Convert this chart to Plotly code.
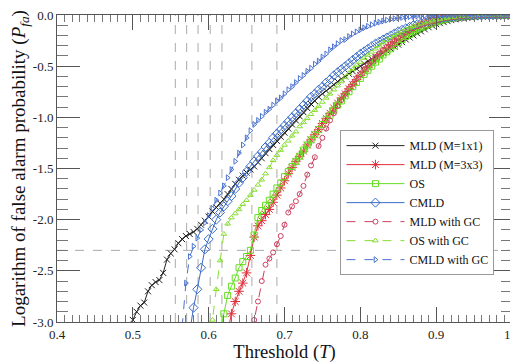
import plotly.graph_objects as go

# ---------------- data ----------------
STEP = 0.005  # threshold spacing of the sampled points

mld_1x1_start = 0.500
mld_1x1 = [-2.98, -2.90, -2.84, -2.81, -2.70, -2.64, -2.61, -2.59, -2.52, -2.39,
           -2.33, -2.29, -2.23, -2.19, -2.16, -2.14, -2.12, -2.09, -2.05, -2.01,
           -1.97, -1.92, -1.88, -1.84, -1.80, -1.75, -1.70, -1.65, -1.61, -1.57,
           -1.54, -1.51, -1.48, -1.44, -1.40, -1.35, -1.31, -1.27, -1.23, -1.19,
           -1.15, -1.11, -1.07, -1.03, -0.99, -0.95, -0.91, -0.87, -0.84, -0.80,
           -0.77, -0.74, -0.71, -0.68, -0.65, -0.625, -0.60, -0.575, -0.55, -0.525,
           -0.50, -0.475, -0.45, -0.43, -0.41, -0.39, -0.37, -0.35, -0.33, -0.31,
           -0.29, -0.265, -0.24, -0.22, -0.20, -0.18, -0.16, -0.14, -0.12, -0.105,
           -0.09, -0.08, -0.07, -0.06, -0.05, -0.042, -0.035, -0.03, -0.025, -0.02,
           -0.015, -0.012, -0.01, -0.008, -0.006, -0.004, -0.003, -0.002, -0.001, 0.0,
           0.0]

mld_3x3_start = 0.625
mld_3x3 = [-3.10, -2.92, -2.80, -2.70, -2.62, -2.52, -2.35, -2.17, -2.06, -2.01,
           -1.95, -1.90, -1.83, -1.76, -1.69, -1.62, -1.55, -1.49, -1.43, -1.38,
           -1.33, -1.27, -1.22, -1.17, -1.12, -1.06, -1.01, -0.96, -0.91, -0.86,
           -0.81, -0.77, -0.72, -0.68, -0.63, -0.59, -0.55, -0.51, -0.47, -0.43,
           -0.40, -0.36, -0.33, -0.30, -0.27, -0.24, -0.21, -0.185, -0.16, -0.14,
           -0.12, -0.10, -0.085, -0.072, -0.06, -0.05, -0.041, -0.034, -0.028, -0.022,
           -0.018, -0.014, -0.011, -0.008, -0.006, -0.005, -0.004, -0.003, -0.002, -0.001,
           -0.001, 0.0, 0.0, 0.0, 0.0, 0.0]

os_start = 0.615
os_vals = [-3.10, -2.92, -2.74, -2.65, -2.57, -2.47, -2.41, -2.36, -2.30, -2.15,
           -1.98, -1.91, -1.86, -1.81, -1.75, -1.69, -1.64, -1.58, -1.53, -1.48,
           -1.43, -1.38, -1.32, -1.27, -1.22, -1.17, -1.12, -1.07, -1.02, -0.98,
           -0.93, -0.88, -0.84, -0.79, -0.75, -0.70, -0.66, -0.62, -0.58, -0.54,
           -0.50, -0.46, -0.43, -0.39, -0.36, -0.33, -0.30, -0.27, -0.24, -0.21,
           -0.19, -0.165, -0.145, -0.125, -0.11, -0.095, -0.08, -0.067, -0.056, -0.046,
           -0.038, -0.031, -0.025, -0.02, -0.016, -0.012, -0.009, -0.007, -0.005, -0.004,
           -0.003, -0.002, -0.001, -0.001, 0.0, 0.0, 0.0, 0.0]

cmld_start = 0.575
cmld = [-3.10, -2.86, -2.68, -2.47, -2.29, -2.19, -2.09, -2.00, -1.93, -1.87,
        -1.82, -1.77, -1.70, -1.64, -1.59, -1.53, -1.48, -1.43, -1.38, -1.34,
        -1.29, -1.25, -1.20, -1.16, -1.12, -1.08, -1.04, -1.00, -0.96, -0.92,
        -0.88, -0.84, -0.80, -0.77, -0.73, -0.70, -0.66, -0.63, -0.59, -0.56,
        -0.53, -0.50, -0.47, -0.44, -0.41, -0.38, -0.355, -0.33, -0.305, -0.28,
        -0.26, -0.24, -0.22, -0.20, -0.18, -0.16, -0.145, -0.13, -0.115, -0.10,
        -0.09, -0.08, -0.07, -0.06, -0.05, -0.042, -0.035, -0.029, -0.024, -0.02,
        -0.016, -0.013, -0.010, -0.008, -0.006, -0.005, -0.004, -0.003, -0.002, -0.0015,
        -0.001, -0.001, 0.0, 0.0, 0.0, 0.0]

mld_gc_start = 0.655
mld_gc = [-3.10, -2.98, -2.80, -2.60, -2.44, -2.38, -2.32, -2.24, -2.16, -2.05,
          -1.93, -1.87, -1.82, -1.75, -1.67, -1.56, -1.47, -1.39, -1.28, -1.20,
          -1.11, -1.03, -0.96, -0.89, -0.83, -0.77, -0.72, -0.67, -0.62, -0.58,
          -0.53, -0.49, -0.45, -0.41, -0.375, -0.34, -0.31, -0.28, -0.25, -0.22,
          -0.195, -0.17, -0.15, -0.13, -0.11, -0.095, -0.08, -0.068, -0.057, -0.047,
          -0.039, -0.032, -0.026, -0.021, -0.017, -0.013, -0.010, -0.008, -0.006, -0.004,
          -0.003, -0.002, -0.0015, -0.001, -0.001, 0.0, 0.0, 0.0, 0.0, 0.0]

os_gc_start = 0.600
os_gc = [-3.10, -2.98, -2.68, -2.40, -2.14, -2.04, -1.98, -1.94, -1.90, -1.85,
         -1.81, -1.76, -1.71, -1.66, -1.61, -1.55, -1.49, -1.42, -1.37, -1.32,
         -1.27, -1.23, -1.18, -1.14, -1.09, -1.05, -1.01, -0.97, -0.93, -0.89,
         -0.85, -0.81, -0.77, -0.73, -0.69, -0.65, -0.61, -0.57, -0.53, -0.49,
         -0.46, -0.42, -0.39, -0.36, -0.33, -0.30, -0.27, -0.245, -0.22, -0.20,
         -0.18, -0.16, -0.14, -0.125, -0.11, -0.095, -0.085, -0.075, -0.065, -0.055,
         -0.047, -0.04, -0.033, -0.027, -0.022, -0.018, -0.014, -0.011, -0.009, -0.007,
         -0.005, -0.004, -0.003, -0.002, -0.0015, -0.001, -0.001, 0.0, 0.0, 0.0,
         0.0]

cmld_gc_start = 0.565
cmld_gc = [-3.05, -2.62, -2.36, -2.26, -2.18, -2.10, -2.03, -1.96, -1.89, -1.81,
           -1.74, -1.67, -1.59, -1.51, -1.43, -1.35, -1.27, -1.20, -1.13, -1.07,
           -1.03, -0.99, -0.95, -0.92, -0.88, -0.84, -0.81, -0.77, -0.73, -0.70,
           -0.66, -0.62, -0.59, -0.55, -0.52, -0.48, -0.45, -0.41, -0.38, -0.34,
           -0.31, -0.28, -0.25, -0.24, -0.21, -0.185, -0.165, -0.145, -0.125, -0.11,
           -0.095, -0.08, -0.07, -0.06, -0.05, -0.042, -0.035, -0.029, -0.024, -0.02,
           -0.016, -0.013, -0.010, -0.008, -0.006, -0.005, -0.004, -0.003, -0.002, -0.002,
           -0.001, -0.001, -0.001, 0.0, 0.0, 0.0, 0.0, 0.0, 0.0, 0.0,
           0.0, 0.0, 0.0, 0.0, 0.0, 0.0, 0.0, 0.0]

# reference (crossing) lines
ref_level = -2.30
ref_thresholds = [0.556, 0.571, 0.586, 0.602, 0.6175, 0.657, 0.690]

x_tick_vals = [0.4, 0.5, 0.6, 0.7, 0.8, 0.9, 1.0]
x_tick_text = ["0.4", "0.5", "0.6", "0.7", "0.8", "0.9", "1.0"]
y_tick_vals = [-3.0, -2.5, -2.0, -1.5, -1.0, -0.5, 0.0]
y_tick_text = ["-3.0", "-2.5", "-2.0", "-1.5", "-1.0", "-0.5", "0.0"]


def grid(start, vals):
    return [round(start + STEP * i, 4) for i in range(len(vals))]


series = [
    ("MLD (M=1x1)", mld_1x1_start, mld_1x1, "#222222", "solid", "x-thin-open", 6),
    ("MLD (M=3x3)", mld_3x3_start, mld_3x3, "#e0303c", "solid", "asterisk-open", 8),
    ("OS", os_start, os_vals, "#66dd22", "solid", "square-open", 6),
    ("CMLD", cmld_start, cmld, "#3a6cc8", "solid", "diamond-open", 7),
    ("MLD with GC", mld_gc_start, mld_gc, "#cc4060", "dash", "circle-open", 5),
    ("OS with GC", os_gc_start, os_gc, "#88dd33", "dash", "triangle-up-open", 5),
    ("CMLD with GC", cmld_gc_start, cmld_gc, "#4a72d0", "dash", "triangle-right-open", 5),
]

fig = go.Figure()
for name, start, vals, color, dash, sym, size in series:
    fig.add_trace(go.Scatter(
        x=grid(start, vals), y=vals, name=name, mode="lines+markers",
        line=dict(color=color, width=1, dash=dash),
        marker=dict(symbol=sym, size=size, color=color, line=dict(color=color, width=1)),
        cliponaxis=True,
    ))

shapes = []
for t in ref_thresholds:
    shapes.append(dict(type="line", xref="x", yref="y", x0=t, x1=t, y0=-3.0, y1=0.0,
                       line=dict(color="#aaaaaa", width=1, dash="dash"), layer="below"))
shapes.append(dict(type="line", xref="x", yref="y", x0=0.4, x1=1.0, y0=ref_level, y1=ref_level,
                   line=dict(color="#aaaaaa", width=1, dash="dash"), layer="below"))

serif = "Liberation Serif, DejaVu Serif, serif"

# the page body adds an 8px offset, so the figure is sized/placed to compensate
fig.update_layout(
    width=510, height=356,
    margin=dict(l=49, r=6, t=7, b=42, autoexpand=False),
    paper_bgcolor="white", plot_bgcolor="white",
    font=dict(family=serif, size=13, color="#222222"),
    shapes=shapes,
    showlegend=True,
    legend=dict(x=0.623, y=0.625, xanchor="left", yanchor="top",
                bgcolor="white", bordercolor="#999999", borderwidth=1,
                font=dict(family=serif, size=12, color="#111111"),
                tracegroupgap=0, itemwidth=58),
)
fig.update_xaxes(
    range=[0.4, 1.0], tickmode="array", tickvals=x_tick_vals, ticktext=x_tick_text,
    ticks="inside", ticklen=15, tickwidth=1, tickcolor="#555555",
    minor=dict(dtick=0.01, tick0=0.4, ticks="inside", ticklen=7, tickcolor="#777777", tickwidth=1),
    showline=True, linecolor="#555555", linewidth=1, mirror="ticks",
    showgrid=False, zeroline=False, automargin=False, ticklabeloverflow="allow",
    title=dict(text="Threshold (<i>T</i>)", font=dict(family=serif, size=18.5, color="#111111"), standoff=4),
    tickfont=dict(family=serif, size=13),
)
fig.update_yaxes(
    range=[-3.0, 0.0], tickmode="array", tickvals=y_tick_vals, ticktext=y_tick_text,
    ticks="inside", ticklen=23, tickwidth=1, tickcolor="#555555",
    minor=dict(dtick=0.1, tick0=0.0, ticks="inside", ticklen=11, tickcolor="#777777", tickwidth=1),
    showline=True, linecolor="#555555", linewidth=1, mirror="ticks",
    showgrid=False, zeroline=False, automargin=False, ticklabeloverflow="allow",
    title=dict(text="Logarithm of false alarm probability (<i>P<sub>fa</sub></i>)",
               font=dict(family=serif, size=19, color="#111111"), standoff=15),
    tickfont=dict(family=serif, size=13),
)

fig.write_html("out.html")
